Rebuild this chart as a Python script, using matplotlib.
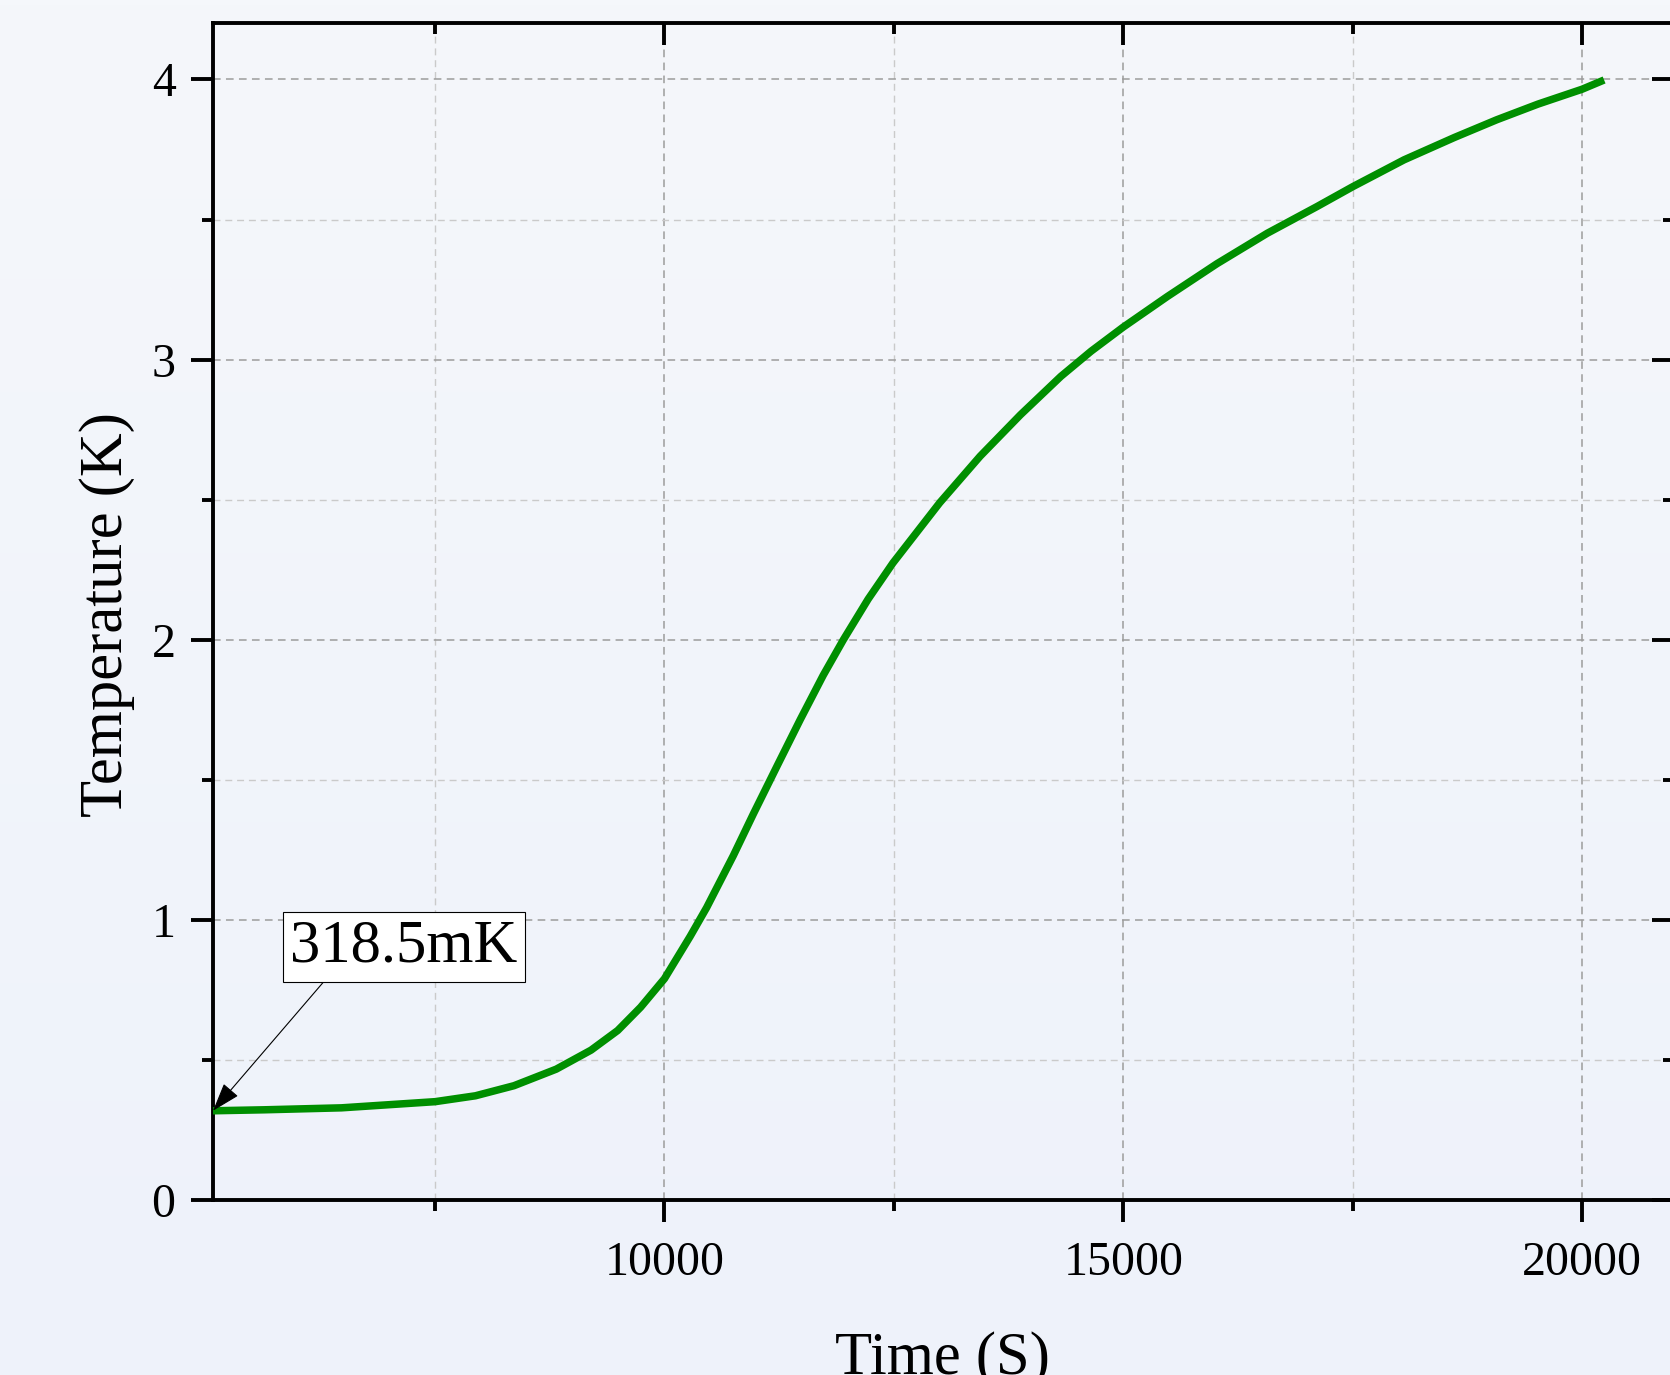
import numpy as np
import matplotlib
matplotlib.use("Agg")
import matplotlib.pyplot as plt
from matplotlib.ticker import FixedLocator
from matplotlib.colors import LinearSegmentedColormap

# ---- data ----
time_s = [5080, 5640, 6480, 7500, 7940, 8360, 8820, 9200, 9490, 9740,
          10000, 10280, 10460, 10750, 10970, 11230, 11480, 11730, 11950, 12220,
          12490, 13000, 13440, 13880, 14320, 14650, 15000, 15480, 16020, 16570,
          17110, 17500, 18060, 18610, 19070, 19520, 20000, 20240]
temp_k = [0.3185, 0.322, 0.329, 0.351, 0.372, 0.408, 0.467, 0.535, 0.605, 0.688,
          0.790, 0.941, 1.044, 1.229, 1.379, 1.551, 1.715, 1.873, 2.000, 2.145,
          2.274, 2.489, 2.655, 2.803, 2.940, 3.030, 3.116, 3.225, 3.342, 3.451,
          3.546, 3.617, 3.713, 3.793, 3.856, 3.912, 3.965, 3.998]
x_major = [10000, 15000, 20000]
x_minor = [7500, 12500, 17500]
y_major = [0, 1, 2, 3, 4]
y_minor = [0.5, 1.5, 2.5, 3.5]
annot_text = "318.5mK"

FONT = ["Liberation Serif", "DejaVu Serif"]
plt.rcParams["font.family"] = FONT

W, H = 1670, 1375
fig = plt.figure(figsize=(W / 100, H / 100), dpi=100)

# background gradient
bg = fig.add_axes([0, 0, 1, 1], zorder=-10)
cmap = LinearSegmentedColormap.from_list("bg", ["#F5F7FB", "#EEF2FA"])
grad = np.linspace(0, 1, 256).reshape(-1, 1)
bg.imshow(grad, aspect="auto", cmap=cmap, extent=[0, 1, 0, 1], origin="upper")
bg.axis("off")

left_px, right_px, top_px, bot_px = 213, 1672, 23.4, 1200
rect = [left_px / W, (H - bot_px) / H,
        (right_px - left_px) / W, (bot_px - top_px) / H]
ax = fig.add_axes(rect)
ax.set_facecolor("none")

ax.plot(time_s, temp_k, color="#008F00", lw=5.4, solid_capstyle="butt",
        solid_joinstyle="round", zorder=5, clip_on=False)

XLIM = (5080, 20980)
YLIM = (0, 4.2)
ax.set_xlim(*XLIM)
ax.set_ylim(*YLIM)

ax.xaxis.set_major_locator(FixedLocator(x_major))
ax.xaxis.set_minor_locator(FixedLocator(x_minor))
ax.yaxis.set_major_locator(FixedLocator(y_major))
ax.yaxis.set_minor_locator(FixedLocator(y_minor))
ax.set_xticklabels([str(v) for v in x_major])
ax.set_yticklabels([str(v) for v in y_major])

spine_lw = 2.8
for s in ax.spines.values():
    s.set_linewidth(spine_lw)
    s.set_color("black")

ax.tick_params(axis="both", which="major", direction="out", length=15.5,
               width=spine_lw, labelsize=34.5, color="black")
ax.tick_params(axis="both", which="minor", direction="out", length=7.7,
               width=spine_lw, color="black")
ax.tick_params(axis="x", which="major", pad=14)
ax.tick_params(axis="y", which="major", pad=11.5)

# overlay axes for inward top / right ticks
ov = fig.add_axes(rect, sharex=ax, sharey=ax)
ov.set_facecolor("none")
for s in ov.spines.values():
    s.set_visible(False)
ov.tick_params(axis="both", which="both", bottom=False, left=False,
               labelbottom=False, labelleft=False, top=True, right=True,
               direction="in", width=spine_lw, color="black")
ov.tick_params(axis="both", which="major", length=15.5)
ov.tick_params(axis="both", which="minor", length=7.7)
ov.tick_params(axis="y", which="major", length=14.5)
ov.tick_params(axis="y", which="minor", length=6.3)

ax.grid(which="major", color="#9C9C9C", linestyle=(0, (5, 3.5)), lw=1.1, zorder=0)
ax.grid(which="minor", color="#CACACA", linestyle=(0, (5, 3.5)), lw=1.0, zorder=0)
ax.set_axisbelow(True)

ax.set_xlabel("Time (S)", fontsize=43.7)
ax.set_ylabel("Temperature (K)", fontsize=43.7)
ax.xaxis.set_label_coords(0.5, -0.1113)
ax.yaxis.set_label_coords(-0.0535, 0.4976)

ax.annotate(annot_text, xy=(time_s[0], temp_k[0]), xytext=(7159, 0.904),
            textcoords="data", ha="center", va="center", fontsize=43.7,
            bbox=dict(boxstyle="square,pad=0.12", fc="white", ec="black", lw=0.8),
            arrowprops=dict(arrowstyle="-|>,head_length=0.9,head_width=0.3",
                            color="black", lw=0.8, mutation_scale=20,
                            relpos=(0.175, 0.0), shrinkA=0, shrinkB=0),
            zorder=10, annotation_clip=False)

fig.savefig("out.png", dpi=100)
